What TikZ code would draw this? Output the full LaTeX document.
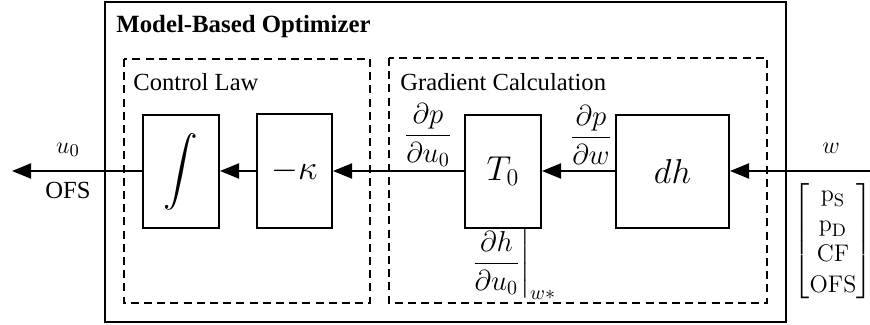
\documentclass[tikz,border=0pt]{standalone}
\usepackage{amsmath}
\usepackage[no-math]{fontspec}
\setmainfont{Liberation Serif}
\usetikzlibrary{arrows.meta}
\begin{document}
\begin{tikzpicture}[x=0.5pt,y=-0.5pt,
  blk/.style={draw,line width=1pt,inner sep=0pt,font=\LARGE},
  grp/.style={draw,line width=1pt,dash pattern=on 4pt off 2.6pt},
  frame/.style={draw,line width=1pt},
  lbl/.style={inner sep=0pt,font=\fontsize{12.3}{14.5}\selectfont},
  frac/.style={inner sep=0pt,font=\fontsize{14}{16}\selectfont},
  arr/.style={line width=1pt,-{Triangle[length=9.5pt,width=7.5pt]}},
  ln/.style={line width=1pt}]
\useasboundingbox (0,0) rectangle (870,325);
% frames
\draw[frame] (105,2) rectangle (786,322);
\node[lbl,anchor=west,font=\fontsize{12.4}{14.5}\selectfont\bfseries] (title) at (116,27) {Model-Based Optimizer};
\draw[grp] (124,59) rectangle (370,303);
\node[lbl,anchor=west] (cl) at (133,82) {Control Law};
\draw[grp] (389,58) rectangle (767,303);
\node[lbl,anchor=west] (gc) at (400,82) {Gradient Calculation};
% blocks
\node[blk,minimum width=38pt,minimum height=56.5pt] (int) at (181,171.5) {$\displaystyle\int$};
\node[blk,minimum width=37.5pt,minimum height=57pt] (kap) at (294.5,171) {$-\kappa$};
\node[blk,minimum width=38pt,minimum height=56.5pt] (T) at (503,171.5) {$T_0$};
\node[blk,minimum width=56.5pt,minimum height=56.5pt] (dh) at (672.5,171.5) {$dh$};
% ends
\coordinate (in) at (870,171);
\coordinate (out) at (12,171);
% connectors
\draw[arr] (in) -- (dh.east |- in);
\draw[arr] (dh.west |- in) -- (T.east |- in);
\draw[arr] (T.west |- in) -- (kap.east |- in);
\draw[arr] (kap.west |- in) -- (int.east |- in);
\draw[arr] (int.west |- in) -- (out);
% labels
\node[lbl] (u0) at (68,150) {$u_0$};
\node[lbl] (ofs) at (68,190) {OFS};
\node[lbl] (w) at (831,148) {$w$};
\node[frac] (dpdu) at (428,135) {$\dfrac{\partial p}{\partial u_0}$};
\node[frac] (dpdw) at (591,135) {$\dfrac{\partial p}{\partial w}$};
\node[frac] (dhdu) at (513,264) {$\left.\dfrac{\partial h}{\partial u_0}\right|_{w*}$};
\node[inner sep=0pt,font=\fontsize{12.8}{15}\selectfont] (vec) at (833,241) {$\begin{bmatrix}\mathrm{p_S}\\ \mathrm{p_D}\\ \mathrm{CF}\\ \mathrm{OFS}\end{bmatrix}$};
\end{tikzpicture}
\end{document}
